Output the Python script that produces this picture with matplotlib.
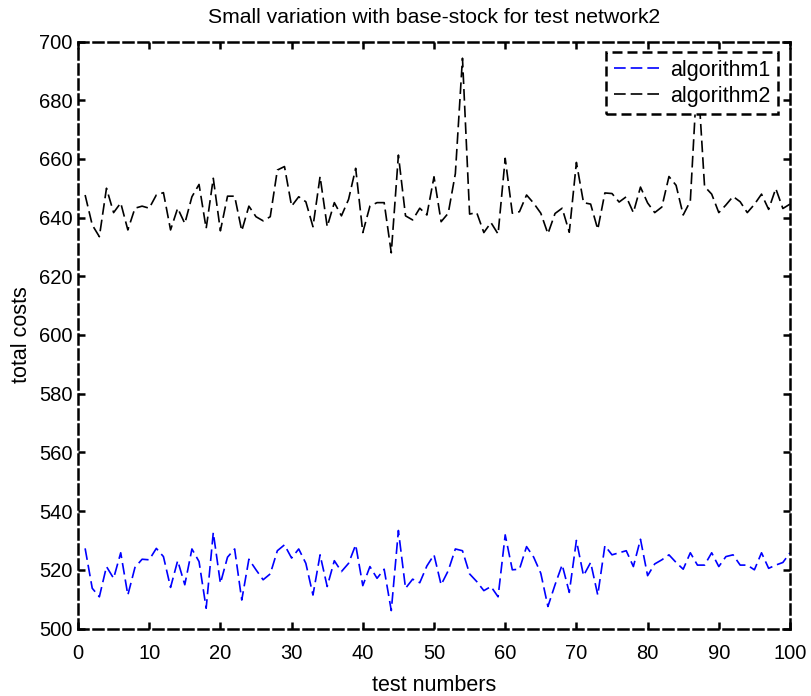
import matplotlib
matplotlib.use("Agg")
import matplotlib.pyplot as plt
import numpy as np

plt.rcParams['font.family'] = ['Liberation Sans', 'DejaVu Sans']

test_numbers = list(range(1, 101))

algorithm1 = [
    527.3, 513.7, 510.8, 521.1, 517.1, 525.8, 511.4, 520.8, 523.6, 523.4,
    527.3, 524.5, 514.0, 523.1, 514.9, 527.1, 522.8, 506.9, 532.7, 515.4,
    524.3, 527.1, 509.7, 523.6, 520.0, 516.6, 518.6, 526.5, 528.5, 524.0,
    527.1, 522.2, 511.4, 525.1, 514.3, 523.1, 519.4, 522.2, 528.5, 514.6,
    521.1, 517.1, 520.2, 506.1, 533.4, 513.7, 516.8, 515.6, 521.3, 525.1,
    514.9, 519.7, 527.1, 526.5, 518.6, 516.0, 512.9, 514.3, 510.8, 531.9,
    520.0, 520.2, 527.9, 524.3, 518.8, 507.5, 514.9, 521.7, 512.3, 530.0,
    518.0, 522.5, 511.4, 528.2, 525.1, 525.8, 526.5, 521.1, 530.4, 518.0,
    522.0, 523.4, 525.1, 522.5, 520.2, 525.8, 521.6, 521.6, 525.8, 521.1,
    524.5, 525.1, 521.6, 521.6, 520.0, 525.8, 520.5, 521.6, 522.5, 525.8,
]

algorithm2 = [
    647.7, 637.5, 633.5, 650.0, 641.7, 645.0, 635.8, 643.2, 643.9, 643.2,
    647.7, 648.5, 635.8, 643.2, 638.0, 647.1, 651.3, 636.3, 653.4, 635.5,
    647.3, 647.3, 635.5, 643.9, 640.3, 638.9, 640.3, 656.2, 657.4, 643.9,
    647.1, 645.4, 636.9, 654.0, 636.9, 645.1, 640.6, 646.2, 656.8, 634.9,
    643.9, 645.1, 645.1, 628.0, 661.3, 640.6, 639.2, 643.2, 640.9, 653.9,
    638.6, 641.5, 655.0, 694.3, 641.2, 641.7, 634.9, 638.3, 634.4, 660.2,
    641.5, 642.0, 647.7, 644.9, 641.5, 634.5, 641.4, 643.2, 635.0, 658.8,
    645.1, 644.6, 636.0, 648.4, 648.2, 645.3, 647.1, 641.7, 650.4, 645.0,
    641.7, 643.6, 654.0, 651.0, 640.9, 645.6, 690.0, 650.6, 648.0, 641.7,
    644.3, 647.2, 645.4, 641.7, 644.5, 648.0, 642.8, 649.9, 643.1, 644.6,
]

x_ticks = [0, 10, 20, 30, 40, 50, 60, 70, 80, 90, 100]
y_ticks = [500, 520, 540, 560, 580, 600, 620, 640, 660, 680, 700]

fig = plt.figure(figsize=(8.12, 6.96), dpi=100)
ax = fig.add_axes([78/812, 1 - 628.5/696, (790-78)/812, (628.5-41.5)/696])

dash = (0, (7, 3))
ax.plot(test_numbers, algorithm1, color='#0000ff', lw=1.2, linestyle=dash, label='algorithm1')
ax.plot(test_numbers, algorithm2, color='black', lw=1.2, linestyle=dash, label='algorithm2')

ax.set_xlim(0, 100)
ax.set_ylim(500, 700)
ax.set_xticks(x_ticks)
ax.set_yticks(y_ticks)
ax.tick_params(direction='in', length=5, width=1.8, top=True, right=True,
               labelsize=14.5, pad=4, colors='black')
ax.tick_params(axis='x', pad=11)

for sp in ax.spines.values():
    sp.set_linewidth(1.8)
    sp.set_linestyle((0, (4, 2)))

ax.set_title('Small variation with base-stock for test network2', fontsize=15.2, pad=13)
ax.set_xlabel('test numbers', fontsize=15.5, labelpad=9)
ax.set_ylabel('total costs', fontsize=15.5, labelpad=5)

leg = ax.legend(loc='upper right', fontsize=15.5, frameon=True, fancybox=False,
                framealpha=1, edgecolor='black', handlelength=2.1,
                borderpad=0.36, labelspacing=0.22, handletextpad=0.5,
                borderaxespad=0, bbox_to_anchor=(0.983, 0.982))
leg.get_frame().set_linewidth(1.8)
leg.get_frame().set_linestyle((0, (4, 2)))

fig.savefig('out.png', dpi=100)
